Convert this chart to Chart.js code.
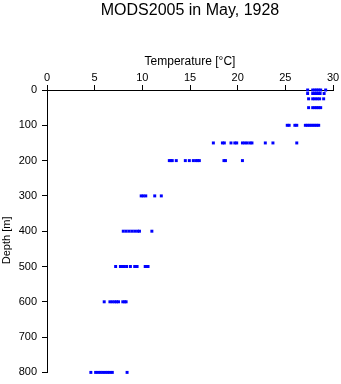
<!DOCTYPE html>
<html>
<head>
<meta charset="utf-8">
<script src="https://cdn.jsdelivr.net/npm/chart.js@4/dist/chart.umd.min.js"></script>
<style>
  html, body { margin: 0; padding: 0; background: #fff; }
  #wrap { width: 341px; height: 384px; }
</style>
</head>
<body>
<div id="wrap"><canvas id="c" width="341" height="384"></canvas></div>
<script>
// MODS2005 profile, May 1928: temperature (°C) observed at each standard depth (m)
const depths = [0, 10, 25, 50, 100, 150, 200, 300, 400, 500, 600, 800];
const temp0   = [27.34, 27.87, 28.1, 28.3, 28.5, 28.71, 29.23];
const temp10  = [27.34, 27.87, 28.1, 28.3, 28.5, 28.65, 29.07];
const temp25  = [27.44, 27.87, 28.1, 28.35, 28.6, 29.02];
const temp50  = [27.44, 27.87, 28.1, 28.3, 28.5, 28.71];
const temp100 = [25.2, 25.4, 26.0, 26.2, 27.1, 27.3, 27.5, 27.7, 27.9, 28.1, 28.3, 28.5];
const temp150 = [17.45, 18.4, 18.6, 19.3, 19.7, 19.9, 20.5, 20.75, 21.0, 21.3, 21.5, 22.9, 23.7, 26.2];
const temp200 = [12.83, 13.0, 13.14, 13.56, 14.51, 14.93, 15.35, 15.62, 15.8, 15.98, 18.56, 18.72, 20.5];
const temp300 = [9.88, 10.1, 10.36, 11.3, 11.99];
const temp400 = [8.0, 8.3, 8.6, 8.9, 9.2, 9.5, 9.7, 11.0];
const temp500 = [7.2, 7.7, 7.9, 8.1, 8.35, 8.75, 9.2, 9.45, 10.3, 10.45, 10.6];
const temp600 = [6.0, 6.6, 6.85, 7.1, 7.3, 7.5, 7.95, 8.15, 8.3];
const temp800 = [4.6, 5.1, 5.35, 5.6, 5.85, 6.1, 6.35, 6.6, 6.85, 8.4];
const tempsByDepth = [temp0, temp10, temp25, temp50, temp100, temp150, temp200, temp300, temp400, temp500, temp600, temp800];

const xTicks = [0, 5, 10, 15, 20, 25, 30];
const yTicks = [0, 100, 200, 300, 400, 500, 600, 700, 800];

const points = [];
depths.forEach((d, i) => tempsByDepth[i].forEach(t => points.push({ x: t, y: d })));

const FONT = '"Liberation Sans", Arial, Helvetica, sans-serif';

// main title, centred over the plot area
const titlePlugin = {
  id: 'plotTitle',
  afterDraw(chart) {
    const { ctx, chartArea } = chart;
    ctx.save();
    ctx.font = '16px ' + FONT;
    ctx.fillStyle = '#000';
    ctx.textAlign = 'center';
    ctx.textBaseline = 'middle';
    ctx.fillText('MODS2005 in May, 1928', (chartArea.left + chartArea.right) / 2, 10.5);
    ctx.restore();
  }
};

new Chart(document.getElementById('c'), {
  type: 'scatter',
  data: {
    datasets: [{
      data: points,
      backgroundColor: '#0000ff',
      borderWidth: 0,
      pointStyle: 'rect',
      pointRadius: 2.1,
      pointHoverRadius: 2.1,
      clip: false,
    }],
  },
  options: {
    responsive: false,
    animation: false,
    events: [],
    layout: { padding: { top: 0, left: 0, right: 8, bottom: 9 } },
    plugins: { legend: { display: false }, tooltip: { enabled: false }, title: { display: false } },
    scales: {
      x: {
        type: 'linear', position: 'top', min: 0, max: 30,
        afterFit: s => { s.height = 90; },
        afterBuildTicks: s => { s.ticks = xTicks.map(v => ({ value: v })); },
        ticks: { color: '#000', font: { family: FONT, size: 11 }, padding: 0, maxRotation: 0 },
        grid: { drawOnChartArea: false, drawTicks: true, tickLength: 5, tickColor: '#000', tickWidth: 1 },
        border: { display: true, color: '#000', width: 1 },
        title: { display: true, text: 'Temperature [°C]', color: '#000', font: { family: FONT, size: 12 }, padding: { top: 54, bottom: 0 } },
      },
      y: {
        type: 'linear', position: 'left', min: 0, max: 800, reverse: true,
        afterFit: s => { s.width = 47; },
        afterBuildTicks: s => { s.ticks = yTicks.map(v => ({ value: v })); },
        ticks: { color: '#000', font: { family: FONT, size: 11 }, padding: 5 },
        grid: { drawOnChartArea: false, drawTicks: true, tickLength: 5, tickColor: '#000', tickWidth: 1 },
        border: { display: true, color: '#000', width: 1 },
        title: { display: true, text: 'Depth [m]      ', color: '#000', font: { family: FONT, size: 11 }, padding: { top: 0, bottom: 0 } },
      },
    },
  },
  plugins: [titlePlugin],
});
</script>
</body>
</html>
